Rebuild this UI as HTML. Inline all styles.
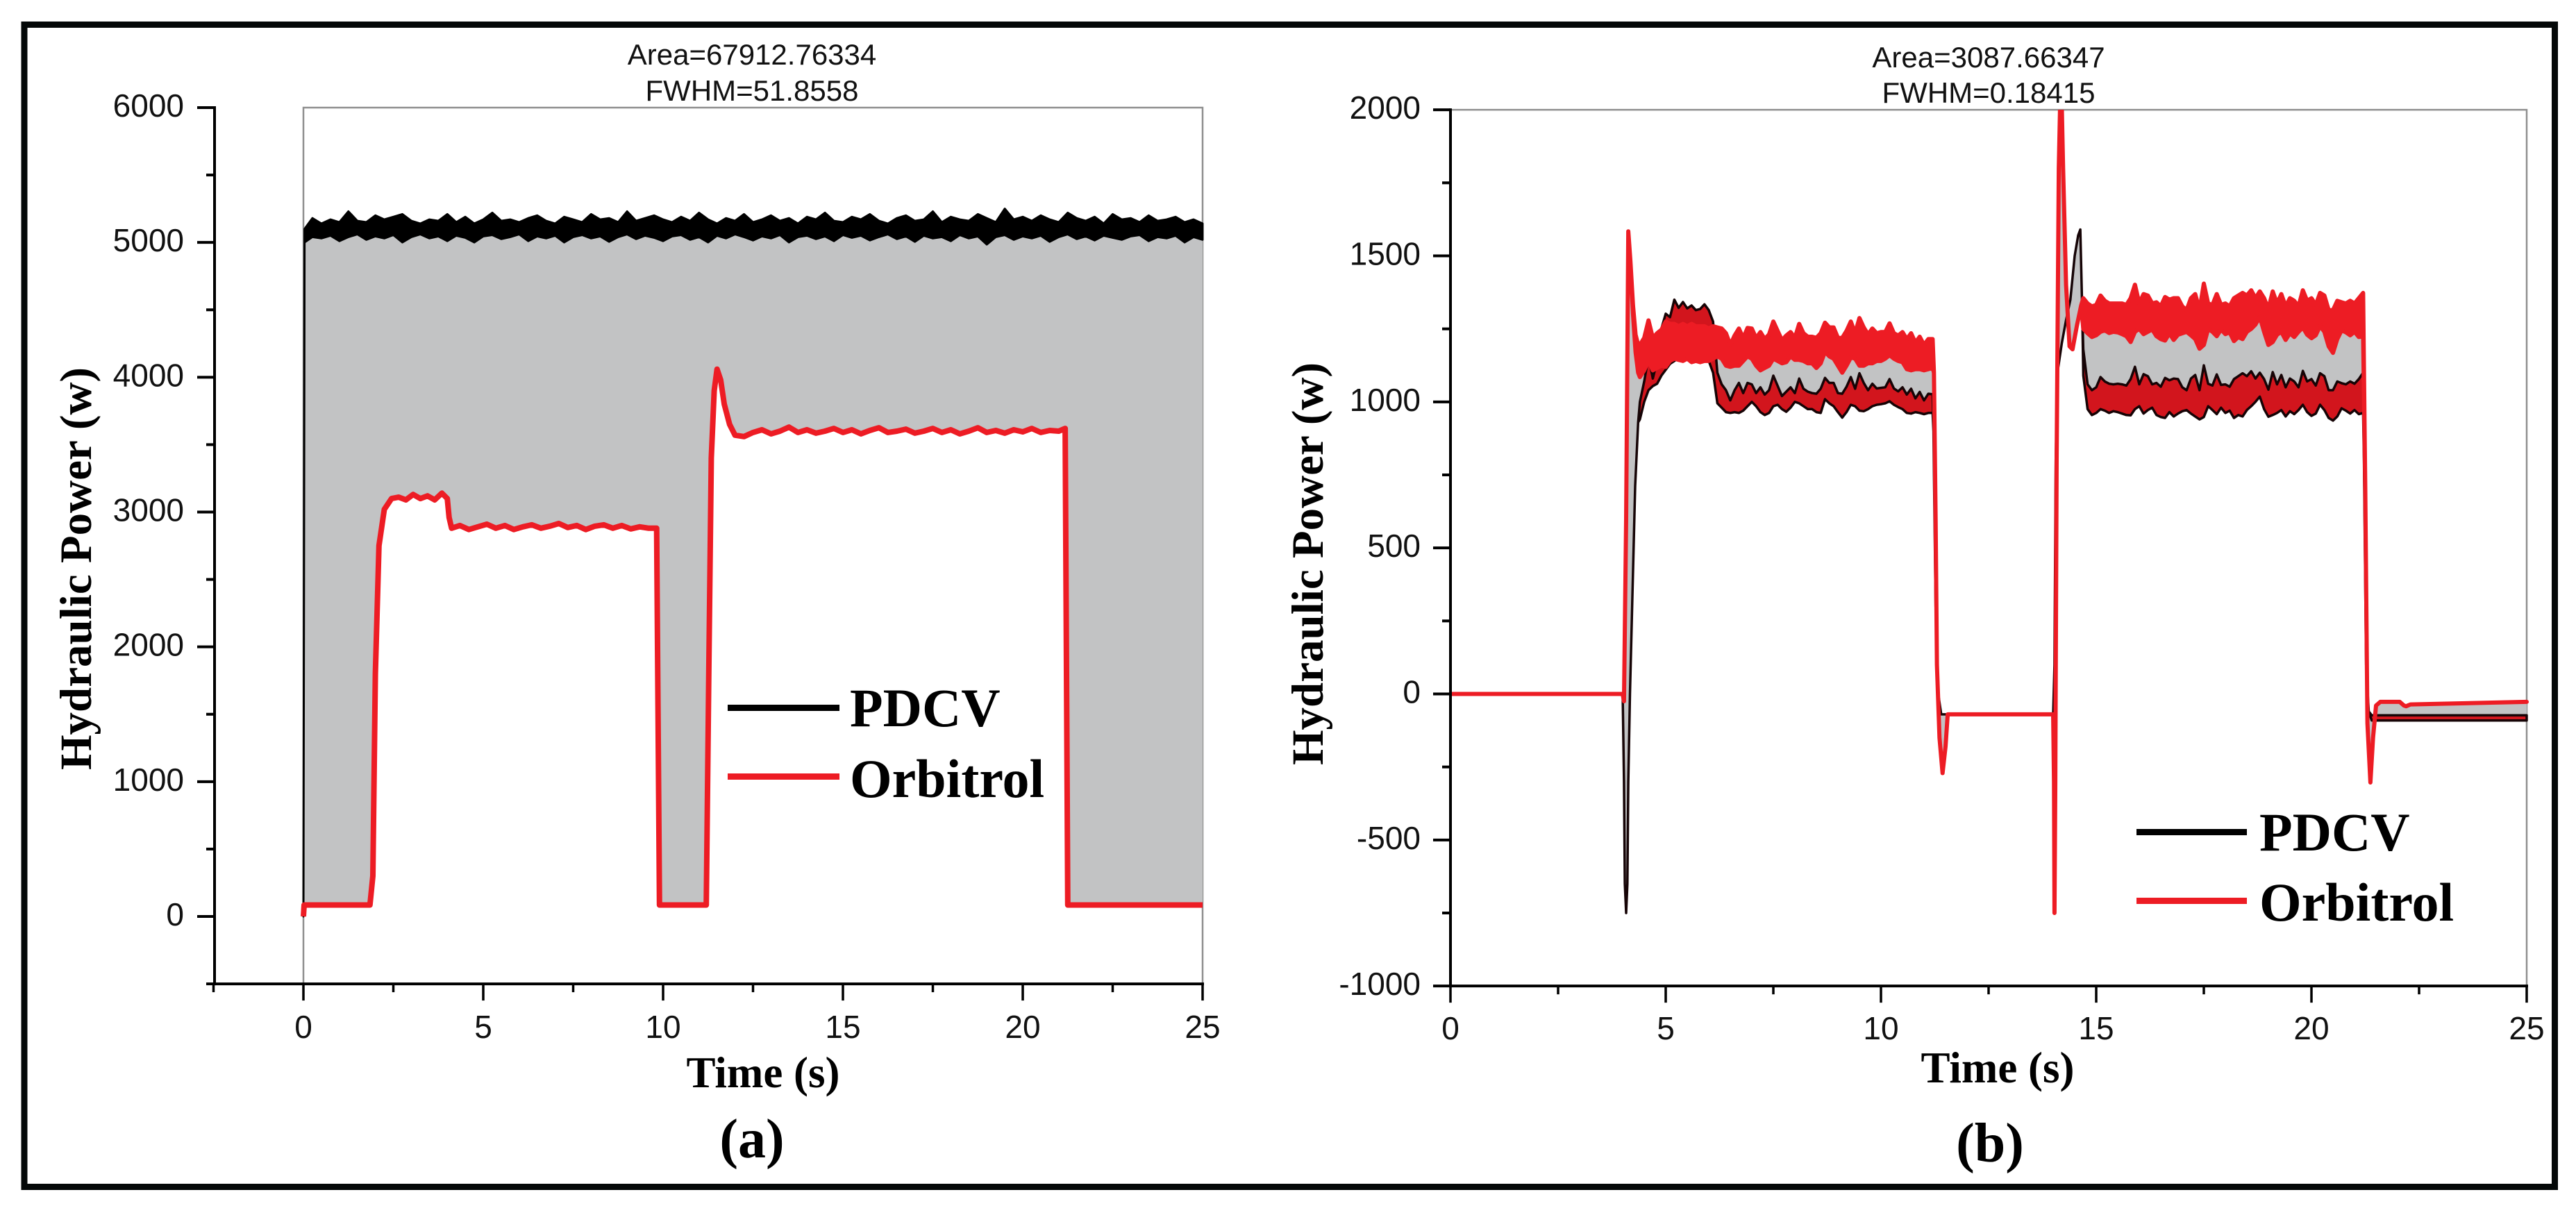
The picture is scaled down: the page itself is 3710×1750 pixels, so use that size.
<!DOCTYPE html>
<html lang="en">
<head>
<meta charset="utf-8">
<title>Hydraulic Power comparison</title>
<style>
html,body{margin:0;padding:0;background:#fff;}
svg{display:block;}
.tick{font:46px "Liberation Sans",sans-serif;fill:#111;}
.note{font:42px "Liberation Sans",sans-serif;fill:#111;text-anchor:middle;}
.title{font:bold 65px "Liberation Serif",serif;fill:#000;}
.xt{font:bold 63px "Liberation Serif",serif;fill:#000;text-anchor:middle;}
.panel{font:bold 80px "Liberation Serif",serif;fill:#000;text-anchor:middle;}
.leg{font:bold 78px "Liberation Serif",serif;fill:#000;}
</style>
</head>
<body>
<svg id="fig" xmlns="http://www.w3.org/2000/svg" width="3710" height="1750" viewBox="0 0 3710 1750">
<rect x="0" y="0" width="3710" height="1750" fill="#fff"/>
<rect x="35" y="35.5" width="3644.5" height="1674" fill="none" stroke="#040808" stroke-width="9"/>
<defs>
<clipPath id="clipB"><rect x="2060" y="158" width="1582" height="1262"/></clipPath>
</defs>

<g id="panelA">
<path id="aFrame" fill="none" stroke="#8f8f8f" stroke-width="2.5"/>
<path id="aGap" fill="#c2c3c4" stroke="none"/>
<path id="aPdcv" fill="#000" stroke="#000" stroke-width="3" stroke-linejoin="round"/>
<path id="aOrb" fill="none" stroke="#ed1c24" stroke-width="8" stroke-linejoin="round"/>
<g id="aAxes"></g>
<text class="note" x="1083" y="93">Area=67912.76334</text>
<text class="note" x="1083" y="145">FWHM=51.8558</text>
<text class="title" transform="translate(131 1109) rotate(-90)">Hydraulic Power (w)</text>
<text class="xt" x="1099" y="1566">Time (s)</text>
<text class="panel" x="1083" y="1667">(a)</text>
<g>
<rect x="1048" y="1015" width="161" height="9" fill="#000"/>
<text class="leg" x="1224" y="1046">PDCV</text>
<rect x="1048" y="1114" width="161" height="9" fill="#ed1c24"/>
<text class="leg" x="1224" y="1148">Orbitrol</text>
</g>
</g>

<g id="panelB">
<path id="bFrame" fill="none" stroke="#8f8f8f" stroke-width="2.5"/>
<g clip-path="url(#clipB)">
<path id="bGap" fill="#c2c3c4" stroke="none"/>
<path id="bPdcv" fill="#d2151d" stroke="#160406" stroke-width="3.5" stroke-linejoin="round"/>
<path id="bOrb" fill="#ed1c24" stroke="#ed1c24" stroke-width="6" stroke-linejoin="round"/>
</g>
<g id="bAxes"></g>
<text class="note" x="2864" y="97">Area=3087.66347</text>
<text class="note" x="2864" y="148">FWHM=0.18415</text>
<text class="title" transform="translate(1905 1102) rotate(-90)">Hydraulic Power (w)</text>
<text class="xt" x="2877" y="1559">Time (s)</text>
<text class="panel" x="2866" y="1673">(b)</text>
<g>
<rect x="3077" y="1194" width="159" height="9" fill="#000"/>
<text class="leg" x="3254" y="1225">PDCV</text>
<rect x="3077" y="1293" width="159" height="9" fill="#ed1c24"/>
<text class="leg" x="3254" y="1326">Orbitrol</text>
</g>
</g>
</svg>

<script>
/* ---------- Chart (a) tick values ---------- */
const aYMajor = [0,1000,2000,3000,4000,5000,6000];
const aYMinor = [-500,500,1500,2500,3500,4500,5500];
const aXMajor = [0,5,10,15,20,25];
const aXMinor = [-2.5,2.5,7.5,12.5,17.5,22.5];

/* ---------- Chart (a) PDCV ---------- */
const aPdcvTime = [0,0.03,
0.25,0.5,0.75,1,1.25,1.5,1.75,2,2.25,2.5,
2.75,3,3.25,3.5,3.75,4,4.25,4.5,4.75,5,
5.25,5.5,5.75,6,6.25,6.5,6.75,7,7.25,7.5,
7.75,8,8.25,8.5,8.75,9,9.25,9.5,9.75,10,
10.25,10.5,10.75,11,11.25,11.5,11.75,12,12.25,12.5,
12.75,13,13.25,13.5,13.75,14,14.25,14.5,14.75,15,
15.25,15.5,15.75,16,16.25,16.5,16.75,17,17.25,17.5,
17.75,18,18.25,18.5,18.75,19,19.25,19.5,19.75,20,
20.25,20.5,20.75,21,21.25,21.5,21.75,22,22.25,22.5,
22.75,23,23.25,23.5,23.75,24,24.25,24.5,24.75,25];
const aPdcvHigh = [0,5100,
5180,5140,5170,5150,5230,5160,5150,5200,5170,5190,
5210,5160,5140,5170,5160,5210,5150,5190,5140,5170,
5220,5160,5170,5150,5180,5200,5160,5140,5190,5170,
5150,5210,5170,5180,5150,5230,5160,5180,5200,5170,
5150,5190,5160,5220,5170,5140,5180,5160,5210,5150,
5170,5200,5160,5180,5140,5190,5170,5220,5160,5150,
5190,5170,5210,5160,5140,5180,5200,5160,5170,5230,
5150,5190,5170,5160,5210,5180,5150,5250,5170,5190,
5160,5200,5170,5150,5220,5180,5160,5190,5140,5210,
5170,5180,5150,5200,5160,5170,5190,5150,5170,5140];
const aPdcvLow = [0,5000,
5040,5030,5050,5010,5040,5060,5020,5045,5030,5055,
5000,5040,5060,5030,5045,5010,5050,5035,5000,5045,
5055,5025,5040,5060,5010,5045,5030,5050,5000,5040,
5055,5030,5045,5005,5040,5060,5025,5050,5035,5010,
5045,5055,5020,5040,5000,5050,5030,5060,5040,5015,
5045,5030,5055,5000,5040,5050,5025,5045,5010,5055,
5035,5050,5015,5040,5060,5025,5045,5005,5050,5030,
5040,5010,5055,5030,5045,4985,5040,5055,5020,5045,
5030,5050,5005,5040,5060,5025,5045,5015,5050,5035,
5020,5045,5055,5010,5040,5030,5050,5000,5040,5020];

/* ---------- Chart (a) Orbitrol ---------- */
const aOrbTime = [0,0.02,1.85,1.93,2,2.1,2.25,2.45,2.65,2.85,
3.05,3.25,3.45,3.65,3.85,4,4.05,4.12,4.35,4.6,
4.85,5.1,5.35,5.6,5.85,6.1,6.35,6.6,6.85,7.1,
7.35,7.6,7.85,8.1,8.35,8.6,8.85,9.1,9.35,9.6,
9.82,9.9,11.2,11.27,11.34,11.42,11.5,11.6,11.7,11.85,
12,12.25,12.5,12.75,13,13.25,13.5,13.75,14,14.25,
14.5,14.75,15,15.25,15.5,15.75,16,16.25,16.5,16.75,
17,17.25,17.5,17.75,18,18.25,18.5,18.75,19,19.25,
19.5,19.75,20,20.25,20.5,20.75,21,21.18,21.25,25];
const aOrbPower = [0,85,85,300,1800,2750,3020,3100,3110,3090,
3130,3100,3120,3090,3140,3100,2960,2880,2900,2870,
2890,2910,2880,2900,2870,2890,2905,2880,2895,2915,
2885,2900,2870,2895,2905,2880,2900,2875,2890,2880,
2880,85,85,1800,3400,3900,4060,3980,3800,3650,
3570,3560,3590,3610,3580,3600,3630,3590,3610,3585,
3600,3620,3590,3610,3580,3605,3625,3590,3600,3615,
3585,3600,3620,3590,3610,3580,3600,3625,3590,3605,
3585,3610,3595,3620,3590,3605,3600,3620,85,85];

/* ---------- Chart (b) tick values ---------- */
const bYMajor = [-1000,-500,0,500,1000,1500,2000];
const bYMinor = [-750,-250,250,750,1250,1750];
const bXMajor = [0,5,10,15,20,25];
const bXMinor = [2.5,7.5,12.5,17.5,22.5];

/* ---------- Chart (b) sample times for the noisy plateaus ---------- */
const bPlateau1Time = [4.4,4.5,4.6,4.7,4.8,4.9,5,5.1,5.2,5.3,
5.4,5.5,5.6,5.7,5.8,5.9,6,6.1,6.2,6.3,
6.4,6.5,6.6,6.7,6.8,6.9,7,7.1,7.2,7.3,
7.4,7.5,7.6,7.7,7.8,7.9,8,8.1,8.2,8.3,
8.4,8.5,8.6,8.7,8.8,8.9,9,9.1,9.2,9.3,
9.4,9.5,9.6,9.7,9.8,9.9,10,10.1,10.2,10.3,
10.4,10.5,10.6,10.7,10.8,10.9,11,11.1,11.2];
const bPlateau2Time = [14.7,14.8,14.9,15,15.1,15.2,15.3,15.4,15.5,15.6,
15.7,15.8,15.9,16,16.1,16.2,16.3,16.4,16.5,16.6,
16.7,16.8,16.9,17,17.1,17.2,17.3,17.4,17.5,17.6,
17.7,17.8,17.9,18,18.1,18.2,18.3,18.4,18.5,18.6,
18.7,18.8,18.9,19,19.1,19.2,19.3,19.4,19.5,19.6,
19.7,19.8,19.9,20,20.1,20.2,20.3,20.4,20.5,20.6,
20.7,20.8,20.9,21,21.1,21.2];

/* ---------- Chart (b) Orbitrol ---------- */
const bOrbRiseTime = [0,4,4.03,4.08,4.13,4.18,4.24,4.3,4.36];
const bOrbRiseHigh = [0,0,-25,600,1584,1480,1330,1230,1195];
const bOrbRiseLow = [0,0,-25,600,1584,1480,1300,1170,1100];
const bOrbP1High = [1195,1219,1279,1219,1235,1247,1275,1267,1267,1259,
1267,1259,1267,1259,1259,1259,1251,1259,1255,1251,
1235,1195,1227,1251,1218,1253,1251,1218,1239,1215,
1231,1275,1243,1211,1227,1239,1219,1267,1235,1223,
1223,1219,1235,1271,1255,1255,1219,1219,1243,1275,
1235,1287,1255,1231,1251,1235,1239,1239,1269,1235,
1227,1239,1215,1235,1203,1223,1195,1215,1215];
const bOrbP1Low = [1085,1108,1140,1108,1116,1124,1120,1140,1148,1144,
1140,1148,1136,1140,1136,1140,1140,1148,1156,1148,
1124,1120,1124,1124,1140,1156,1148,1124,1108,1116,
1124,1148,1140,1132,1136,1156,1144,1144,1140,1132,
1132,1116,1132,1172,1156,1148,1124,1100,1124,1152,
1148,1124,1124,1132,1132,1140,1140,1148,1160,1148,
1140,1136,1112,1108,1112,1112,1108,1112,1116];
const bOrbMidTime = [11.23,11.27,11.3,11.36,11.43,11.5,11.55,14,14.02,14.03,14.05,14.08,14.13,14.18,14.23,14.3,14.38,14.45,14.55,14.65];
const bOrbMidPower = [1100,600,100,-150,-271,-180,-70,-70,-300,-750,-300,800,1800,2150,1800,1400,1190,1180,1260,1330];
const bOrbP2High = [1355,1337,1327,1332,1364,1346,1337,1337,1337,1337,
1332,1355,1401,1337,1369,1364,1337,1341,1327,1359,
1350,1355,1355,1327,1314,1355,1369,1314,1405,1337,
1332,1369,1332,1337,1327,1355,1364,1373,1364,1382,
1355,1378,1355,1318,1378,1337,1369,1327,1355,1346,
1327,1382,1346,1355,1332,1373,1364,1314,1314,1346,
1341,1337,1346,1337,1355,1373];
const bOrbP2Low = [1250,1235,1222,1228,1240,1245,1236,1240,1238,1232,
1225,1205,1240,1250,1232,1240,1248,1225,1215,1210,
1235,1212,1230,1235,1240,1228,1215,1182,1195,1250,
1240,1225,1248,1232,1238,1208,1222,1215,1240,1250,
1265,1291,1240,1195,1205,1230,1240,1212,1235,1222,
1240,1255,1230,1218,1228,1260,1240,1190,1168,1215,
1245,1238,1228,1240,1222,1225];
const bOrbEndTime = [21.25,21.3,21.37,21.43,21.5,21.6,22.05,22.15,22.2,22.3,25];
const bOrbEndPower = [700,-100,-303,-150,-40,-27,-27,-40,-42,-36,-27];

/* ---------- Chart (b) PDCV ---------- */
const bPdcvRiseTime = [0,4,4.03,4.05,4.08,4.11,4.13,4.17,4.29,4.36];
const bPdcvRisePower = [0,0,-300,-650,-750,-650,-300,0,712,930];
const bPdcvP1High = [1000,1070,1156,1080,1140,1251,1302,1290,1350,1322,
1342,1320,1330,1314,1318,1334,1314,1275,1100,1060,
1040,1005,1040,1065,1030,1065,1060,1030,1050,1025,
1040,1090,1055,1020,1035,1050,1030,1080,1045,1035,
1030,1028,1045,1082,1065,1065,1030,1028,1052,1085,
1045,1098,1065,1040,1062,1046,1048,1050,1078,1046,
1036,1050,1025,1045,1012,1034,1005,1028,1026];
const bPdcvP1Low = [940,1000,1040,1054,1062,1090,1110,1130,1140,1150,
1140,1150,1145,1150,1140,1150,1140,1100,995,980,
965,962,965,962,970,985,1000,985,965,955,
962,985,990,975,966,980,1000,995,985,975,
975,965,962,1009,995,985,965,946,965,990,
985,970,968,975,985,990,992,995,1002,990,
982,975,962,960,965,962,958,962,962];
const bPdcvMidTime = [11.22,11.27,11.33,11.4,14,14.03,14.06,14.1,14.2,14.3,14.4,14.5,14.58,14.63,14.67];
const bPdcvMidPower = [900,300,0,-70,-70,100,800,1100,1200,1280,1350,1500,1570,1590,1350];
const bPdcvP2High = [1180,1060,1040,1050,1085,1070,1062,1060,1062,1060,
1056,1078,1120,1060,1095,1088,1060,1065,1052,1082,
1074,1080,1078,1050,1040,1080,1092,1040,1125,1062,
1056,1094,1058,1060,1052,1078,1088,1098,1088,1105,
1080,1100,1078,1042,1102,1060,1092,1050,1080,1070,
1050,1106,1070,1078,1056,1098,1088,1040,1040,1070,
1064,1060,1070,1062,1078,1100];
const bPdcvP2Low = [1090,975,955,962,975,970,962,968,965,960,
955,954,975,985,960,972,980,955,948,945,
965,950,960,968,972,960,950,940,948,985,
972,958,980,962,970,945,955,950,972,985,
1000,1018,975,949,955,962,972,950,968,958,
972,990,965,952,960,990,972,945,936,950,
978,970,960,972,958,962];
const bPdcvEndTime = [21.22,21.27,21.33,21.4,25];
const bPdcvEndHigh = [800,100,-60,-73,-73];
const bPdcvEndLow = [800,100,-60,-91,-91];

/* ---------- Axis functions ---------- */
const aX = t => 437 + t * 51.8;
const aY = v => 1320 - v * 0.19417;
const bX = t => 2089 + t * 62;
const bY = v => 999.5 - v * 0.42067;

const SVGNS = 'http://www.w3.org/2000/svg';
function node(tag, parent, attrs, text) {
  const el = document.createElementNS(SVGNS, tag);
  for (const k in attrs) el.setAttribute(k, attrs[k]);
  if (text !== undefined) el.textContent = text;
  parent.appendChild(el);
  return el;
}
function linePath(time, power, xf, yf) {
  let d = '';
  const n = Math.min(time.length, power.length);
  for (let i = 0; i < n; i++) d += (i ? 'L' : 'M') + xf(time[i]).toFixed(1) + ' ' + yf(power[i]).toFixed(1);
  return d;
}
function bandPath(time, high, low, xf, yf) {
  let d = linePath(time, high, xf, yf);
  for (let i = Math.min(time.length, low.length) - 1; i >= 0; i--) d += 'L' + xf(time[i]).toFixed(1) + ' ' + yf(low[i]).toFixed(1);
  return d + 'Z';
}
function gapPath(topTime, topPower, botTime, botPower, xf, yf) {
  let d = linePath(topTime, topPower, xf, yf);
  for (let i = Math.min(botTime.length, botPower.length) - 1; i >= 0; i--) d += 'L' + xf(botTime[i]).toFixed(1) + ' ' + yf(botPower[i]).toFixed(1);
  return d + 'Z';
}
function drawAxes(group, xf, yf, xMajor, xMinor, yMajor, yMinor, xLeft, xRight, yTop, yBottom, xBase, yBase, suffix) {
  const yAxis = node('line', group, {x1: xLeft, x2: xLeft, y1: yTop - 2, y2: yBottom + 2, stroke: '#000', 'stroke-width': 4});
  
  
  const xAxis = node('line', group, {x1: xLeft, x2: xRight + 2, y1: yBottom, y2: yBottom, stroke: '#000', 'stroke-width': 4});
  
  
  yMajor.forEach(v => {
    const tick = node('line', group, {x1: xLeft - 25, x2: xLeft, y1: yf(v), y2: yf(v), stroke: '#000', 'stroke-width': 4});
    
    
    const label = node('text', group, {class: 'tick', x: yBase, y: yf(v) + 13, 'text-anchor': 'end'}, String(v));
    
    
  });
  yMinor.forEach(v => {
    const tick = node('line', group, {x1: xLeft - 12, x2: xLeft, y1: yf(v), y2: yf(v), stroke: '#000', 'stroke-width': 4});
    
    
  });
  xMajor.forEach(t => {
    const tick = node('line', group, {x1: xf(t), x2: xf(t), y1: yBottom, y2: yBottom + 24, stroke: '#000', 'stroke-width': 3.5});
    
    
    const label = node('text', group, {class: 'tick', x: xf(t), y: xBase, 'text-anchor': 'middle'}, String(t));
    
    
  });
  xMinor.forEach(t => {
    const tick = node('line', group, {x1: xf(t), x2: xf(t), y1: yBottom, y2: yBottom + 12, stroke: '#000', 'stroke-width': 3.5});
    
    
  });
}

/* ---------- Chart (a) marks ---------- */
document.getElementById('aFrame').setAttribute('d',
  'M' + aX(0) + ' ' + aY(-500) + 'V' + aY(6000) + 'H' + aX(25) + 'V' + aY(-500));
document.getElementById('aGap').setAttribute('d', gapPath(aPdcvTime, aPdcvLow, aOrbTime, aOrbPower, aX, aY));
document.getElementById('aPdcv').setAttribute('d', bandPath(aPdcvTime, aPdcvHigh, aPdcvLow, aX, aY));
document.getElementById('aOrb').setAttribute('d', linePath(aOrbTime, aOrbPower, aX, aY));
drawAxes(document.getElementById('aAxes'), aX, aY, aXMajor, aXMinor, aYMajor, aYMinor, 309, aX(25), aY(6000), aY(-500), 1495, 265, 'a');

/* ---------- Chart (b) marks ---------- */
const bOrbTime = [...bOrbRiseTime, ...bPlateau1Time, ...bOrbMidTime, ...bPlateau2Time, ...bOrbEndTime];
const bOrbHigh = [...bOrbRiseHigh, ...bOrbP1High, ...bOrbMidPower, ...bOrbP2High, ...bOrbEndPower];
const bOrbLow = [...bOrbRiseLow, ...bOrbP1Low, ...bOrbMidPower, ...bOrbP2Low, ...bOrbEndPower];
const bPdcvTime = [...bPdcvRiseTime, ...bPlateau1Time, ...bPdcvMidTime, ...bPlateau2Time, ...bPdcvEndTime];
const bPdcvHigh = [...bPdcvRisePower, ...bPdcvP1High, ...bPdcvMidPower, ...bPdcvP2High, ...bPdcvEndHigh];
const bPdcvLow = [...bPdcvRisePower, ...bPdcvP1Low, ...bPdcvMidPower, ...bPdcvP2Low, ...bPdcvEndLow];

document.getElementById('bFrame').setAttribute('d',
  'M' + bX(0) + ' ' + bY(2000) + 'H' + bX(25) + 'V' + bY(-1000));
document.getElementById('bGap').setAttribute('d', gapPath(bOrbTime, bOrbLow, bPdcvTime, bPdcvHigh, bX, bY));
document.getElementById('bPdcv').setAttribute('d', bandPath(bPdcvTime, bPdcvHigh, bPdcvLow, bX, bY));
document.getElementById('bOrb').setAttribute('d', bandPath(bOrbTime, bOrbHigh, bOrbLow, bX, bY));
drawAxes(document.getElementById('bAxes'), bX, bY, bXMajor, bXMinor, bYMajor, bYMinor, 2089, bX(25), bY(2000), bY(-1000), 1497, 2046, 'b');
</script>
</body>
</html>
